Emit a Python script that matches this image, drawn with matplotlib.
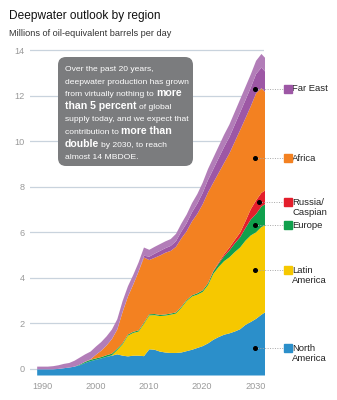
import matplotlib

matplotlib.use("Agg")
import matplotlib.pyplot as plt
import numpy as np
from matplotlib.patches import FancyBboxPatch

plt.rcParams["font.family"] = ["Liberation Sans Narrow", "Liberation Sans", "DejaVu Sans"]

# Deepwater production by region, millions of oil-equivalent barrels per day
YEARS = list(range(1989, 2033))
NORTH_AMERICA = [0.00, 0.00, 0.00, 0.00, 0.02, 0.05, 0.08, 0.12, 0.18, 0.28,
                 0.36, 0.42, 0.48, 0.55, 0.60, 0.66, 0.60, 0.57, 0.60, 0.60,
                 0.58, 0.88, 0.86, 0.78, 0.74, 0.72, 0.72, 0.74, 0.80, 0.86,
                 0.94, 1.02, 1.14, 1.30, 1.42, 1.52, 1.58, 1.66, 1.76, 1.95,
                 2.08, 2.22, 2.40, 2.55]
LATIN_AMERICA = [0.00, 0.00, 0.00, 0.00, 0.00, 0.00, 0.00, 0.00, 0.00, 0.00,
                 0.00, 0.00, 0.00, 0.00, 0.02, 0.19, 0.50, 0.91, 1.00, 1.06,
                 1.42, 1.49, 1.52, 1.56, 1.62, 1.68, 1.73, 1.96, 2.20, 2.34,
                 2.34, 2.38, 2.56, 2.90, 3.08, 3.23, 3.34, 3.49, 3.59, 3.70,
                 3.80, 3.80, 3.85, 3.80]
EUROPE = [0.00, 0.00, 0.00, 0.00, 0.00, 0.00, 0.00, 0.00, 0.03, 0.05,
          0.06, 0.06, 0.06, 0.07, 0.07, 0.06, 0.05, 0.05, 0.05, 0.05,
          0.05, 0.05, 0.05, 0.05, 0.05, 0.05, 0.05, 0.05, 0.05, 0.05,
          0.06, 0.07, 0.08, 0.10, 0.15, 0.22, 0.30, 0.38, 0.45, 0.55,
          0.70, 0.80, 0.90, 0.95]
RUSSIA_CASPIAN = [0.00] * 33 + [0.03, 0.05, 0.08, 0.12, 0.15, 0.20, 0.30,
                                0.45, 0.60, 0.60, 0.60]
AFRICA = [0.00, 0.00, 0.00, 0.00, 0.00, 0.00, 0.00, 0.00, 0.00, 0.01,
          0.02, 0.16, 0.28, 0.43, 0.64, 0.84, 1.37, 1.67, 2.08, 2.59,
          2.86, 2.38, 2.47, 2.61, 2.71, 2.75, 2.88, 3.00, 3.02, 3.25,
          3.49, 3.78, 3.99, 3.87, 3.93, 4.01, 4.14, 4.31, 4.50, 4.52,
          4.52, 4.70, 4.60, 4.20]
FAR_EAST = [0.00] * 20 + [0.08, 0.15, 0.18, 0.20, 0.20, 0.22, 0.25, 0.30,
                          0.35, 0.40, 0.45, 0.50, 0.55, 0.60, 0.65, 0.70,
                          0.72, 0.75, 0.78, 0.80, 0.82, 0.85, 0.90, 0.90]
FAR_EAST_OTHER = [0.12, 0.12, 0.12, 0.14, 0.16, 0.19, 0.20, 0.26, 0.31, 0.32,
                  0.34, 0.36, 0.38, 0.40, 0.42, 0.45, 0.48, 0.45, 0.42, 0.40,
                  0.36, 0.30, 0.30, 0.30, 0.30, 0.30, 0.32, 0.35, 0.38, 0.40,
                  0.42, 0.45, 0.48, 0.50, 0.52, 0.54, 0.55, 0.56, 0.57, 0.58,
                  0.58, 0.58, 0.60, 0.60]

X_TICKS = [1990, 2000, 2010, 2020, 2030]
Y_TICKS = [0, 2, 4, 6, 8, 10, 12, 14]

LAYERS = [
    ("North\nAmerica", NORTH_AMERICA, "#2b8fca"),
    ("Latin\nAmerica", LATIN_AMERICA, "#f6c800"),
    ("Europe", EUROPE, "#10a04c"),
    ("Russia/\nCaspian", RUSSIA_CASPIAN, "#e41e2b"),
    ("Africa", AFRICA, "#f38121"),
    ("Far East", FAR_EAST, "#9d57a5"),
    (None, FAR_EAST_OTHER, "#b27db8"),
]

NOTE = [
    [("Over the past 20 years,", False)],
    [("deepwater production has grown", False)],
    [("from virtually nothing to", False), ("more", True)],
    [("than 5 percent", True), ("of global", False)],
    [("supply today, and we expect that", False)],
    [("contribution to", False), ("more than", True)],
    [("double", True), ("by 2030, to reach", False)],
    [("almost 14 MBDOE.", False)],
]

GRID = "#c9d3dd"
TICK = "#9a9a9a"
INK = "#222222"
FLOOR = -0.27

fig = plt.figure(figsize=(3.37, 4.0), dpi=100)
ax = fig.add_axes([30 / 337, 25 / 400, 234.3 / 337, 326.1 / 400])

x = np.array(YEARS, dtype=float)
tops = np.cumsum([np.array(v) for _, v, _ in LAYERS], axis=0)
bottoms = np.vstack([np.full_like(x, FLOOR), tops[:-1]])
for (_, _, color), lo, hi in zip(LAYERS, bottoms, tops):
    ax.fill_between(x, lo, hi, color=color, lw=0, zorder=2)

ax.set_xlim(1987.75, 2031.63)
ax.set_ylim(FLOOR, 14.05)
ax.set_yticks(Y_TICKS)
ax.set_xticks(X_TICKS)
ax.tick_params(length=0, labelsize=6.6, colors=TICK)
ax.tick_params(axis="y", pad=4)
ax.tick_params(axis="x", pad=5)
ax.grid(True, axis="y", color=GRID, lw=0.9)
ax.set_axisbelow(True)
for s in ax.spines.values():
    s.set_visible(False)

# region labels: dot inside the band, dotted leader, colour key, name
label_spots = {"Far East": (2029.8, 0.35), "Africa": (2029.8, 0.41),
               "Russia/\nCaspian": (2030.7, 0.43), "Europe": (2029.8, 0.40),
               "Latin\nAmerica": (2029.8, 0.56), "North\nAmerica": (2029.8, 0.41)}
for (name, _, color), lo, hi in zip(LAYERS, bottoms, tops):
    if name is None:
        continue
    xd, frac = label_spots[name]
    lo_v = max(np.interp(xd, x, lo), 0)
    yd = lo_v + frac * (np.interp(xd, x, hi) - lo_v)
    ax.plot([xd, 2035.1], [yd, yd], color="#a8a8a8", lw=0.7, ls=(0, (1, 1.5)),
            clip_on=False, zorder=4)
    ax.plot([xd], [yd], "o", color="black", ms=2.6, clip_on=False, zorder=5)
    ax.plot([2036.05], [yd], "s", color=color, ms=5.6, clip_on=False, zorder=5)
    for i, line in enumerate(name.split("\n")):
        ax.annotate(line, (2036.9, yd), xytext=(0, -7.4 * i), textcoords="offset points",
                    ha="left", va="center", fontsize=6.8, color=INK,
                    annotation_clip=False)

fig.text(9 / 337, 1 - 16 / 400, "Deepwater outlook by region", fontsize=8.6,
         color="#111111", va="center", ha="left")
fig.text(9 / 337, 1 - 34 / 400, "Millions of oil-equivalent barrels per day",
         fontsize=6.6, color="#333333", va="center", ha="left")

# callout box with mixed-weight text
box = FancyBboxPatch((0.58, 2.34), 1.35, 1.09, boxstyle="round,pad=0,rounding_size=0.08",
                     transform=fig.dpi_scale_trans, fc="#7b7c7e", ec="none", zorder=3)
fig.add_artist(box)
renderer = fig.canvas.get_renderer()
for i, segments in enumerate(NOTE):
    xpos = 65.0
    base = 400 - (71 + 12.6 * i)
    for j, (txt, bold) in enumerate(segments):
        t = fig.text(xpos / 100, base / 100, txt, transform=fig.dpi_scale_trans,
                     color="white", va="baseline", ha="left", zorder=4,
                     fontsize=7.6 if bold else 6.1,
                     fontweight="bold" if bold else "normal")
        xpos += t.get_window_extent(renderer).width + 2.2

fig.savefig("out.png", dpi=100)
